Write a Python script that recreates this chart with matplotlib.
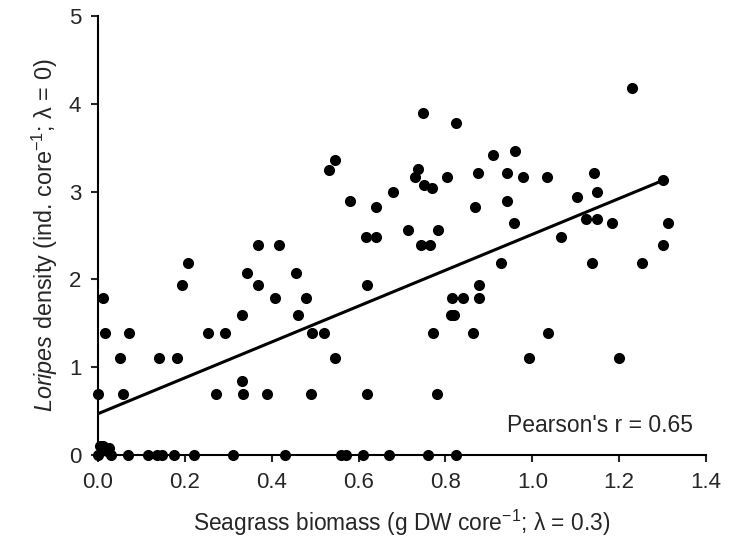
import matplotlib
matplotlib.use("Agg")
import matplotlib.pyplot as plt

plt.rcParams["font.family"] = ["Liberation Sans", "DejaVu Sans"]
plt.rcParams["mathtext.fontset"] = "custom"
plt.rcParams["mathtext.rm"] = "Liberation Sans"
plt.rcParams["mathtext.it"] = "Liberation Sans:italic"

# seagrass biomass (x) and Loripes density (y)
biomass = [
    0.0, 0.005, 0.012, 0.02, 0.025, 0.03, 0.069, 0.115, 0.136, 0.147, 0.175,
    0.221, 0.311, 0.431, 0.56, 0.57, 0.611, 0.67, 0.76, 0.825,
    0.0, 0.058, 0.272, 0.334, 0.389, 0.491, 0.62, 0.781, 0.332,
    0.051, 0.141, 0.182, 0.546, 0.993, 1.2,
    0.016, 0.071, 0.253, 0.293, 0.493, 0.521, 0.772, 0.864, 1.037,
    0.332, 0.461, 0.813, 0.82,
    0.012, 0.408, 0.479, 0.816, 0.841, 0.878,
    0.207, 0.194, 0.343, 0.369, 0.417, 0.369, 0.456, 0.532, 0.546,
    0.749, 0.825, 0.91, 0.961, 0.737, 0.73, 0.751, 0.77, 0.804, 0.876,
    0.942, 0.979, 1.035, 1.104, 0.581, 0.641, 0.68, 0.869, 0.942,
    0.618, 0.641, 0.714, 0.744, 0.765, 0.783, 0.959, 1.065, 0.929,
    0.62, 0.878,
    1.23, 1.143, 1.15, 1.302, 1.124, 1.15, 1.184, 1.313, 1.3, 1.138, 1.253,
]
density = [
    0.0, 0.1, 0.1, 0.05, 0.08, 0.0, 0.0, 0.0, 0.0, 0.0, 0.0,
    0.0, 0.0, 0.0, 0.0, 0.0, 0.0, 0.0, 0.0, 0.0,
    0.7, 0.7, 0.7, 0.7, 0.7, 0.7, 0.7, 0.7, 0.84,
    1.1, 1.1, 1.1, 1.1, 1.1, 1.1,
    1.39, 1.39, 1.39, 1.39, 1.39, 1.39, 1.39, 1.39, 1.39,
    1.6, 1.6, 1.6, 1.6,
    1.79, 1.79, 1.79, 1.79, 1.79, 1.79,
    2.19, 1.94, 2.07, 2.39, 2.39, 1.94, 2.07, 3.25, 3.36,
    3.9, 3.78, 3.42, 3.46, 3.26, 3.17, 3.08, 3.04, 3.17, 3.21,
    3.21, 3.17, 3.17, 2.94, 2.89, 2.83, 2.99, 2.83, 2.89,
    2.48, 2.48, 2.56, 2.39, 2.39, 2.56, 2.64, 2.48, 2.19,
    1.94, 1.94,
    4.18, 3.21, 2.99, 3.13, 2.69, 2.69, 2.64, 2.64, 2.39, 2.19, 2.19,
]

# fitted regression line end points
fit_x = [0.0, 1.302]
fit_y = [0.47, 3.13]

x_ticks = [0.0, 0.2, 0.4, 0.6, 0.8, 1.0, 1.2, 1.4]
y_ticks = [0, 1, 2, 3, 4, 5]

txt = "#262626"

fig = plt.figure(figsize=(7.34, 5.45), dpi=100)
ax = fig.add_axes([98 / 734, 1 - 455 / 545, (706 - 98) / 734, (455 - 16) / 545])

ax.scatter(biomass, density, s=64, color="black", zorder=3, clip_on=False,
           linewidths=0)
ax.plot(fit_x, fit_y, color="black", linewidth=2.2, zorder=2)

ax.set_xlim(0, 1.4)
ax.set_ylim(0, 5)
ax.set_xticks(x_ticks)
ax.set_xticklabels([f"{v:.1f}" for v in x_ticks])
ax.set_yticks(y_ticks)

for side in ("top", "right"):
    ax.spines[side].set_visible(False)
for side in ("left", "bottom"):
    ax.spines[side].set_linewidth(1.5)

ax.tick_params(direction="out", length=5, width=1.5, labelsize=16,
               colors=txt, pad=7)

ax.set_xlabel(r"Seagrass biomass (g DW core$^{-1}$; λ = 0.3)", fontsize=16.4,
              color=txt, labelpad=11)
ax.set_ylabel(r"$\it{Loripes}$ density (ind. core$^{-1}$; λ = 0)",
              fontsize=16.8, color=txt, labelpad=6)

ax.text(1.369, 0.2, "Pearson's r = 0.65", fontsize=16.5, color=txt,
        ha="right", va="bottom")

fig.savefig("out.png", dpi=100)
